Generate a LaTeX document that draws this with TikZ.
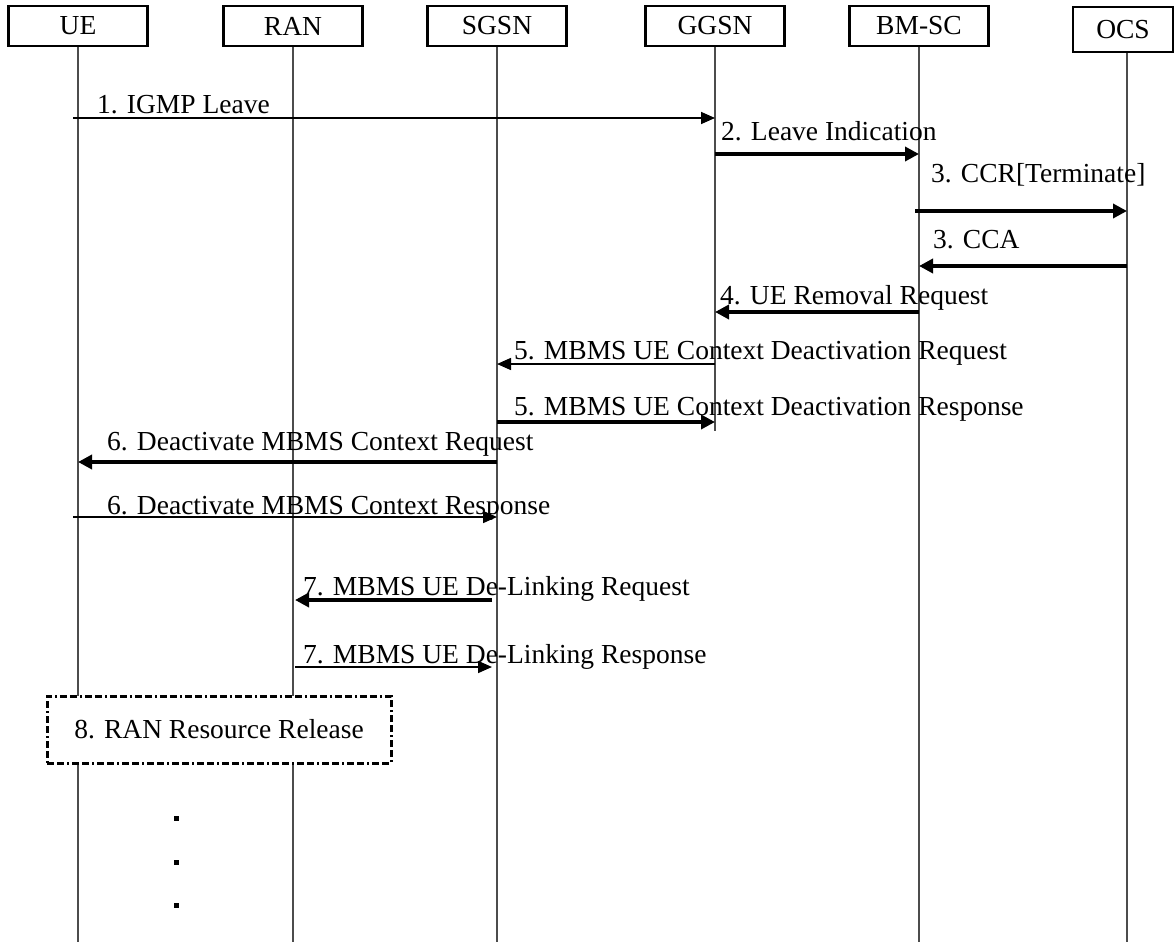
\documentclass[tikz,border=0pt]{standalone}
\usepackage{fontspec}
\setmainfont{Liberation Serif}
\usetikzlibrary{arrows.meta}

\begin{document}
\begin{tikzpicture}[x=1pt, y=-1pt, font=\fontsize{27.5}{30}\selectfont,
    entity/.style={draw, line width=2.4pt, minimum width=139pt, minimum height=40pt, inner sep=0pt},
    life/.style={draw=black!70, line width=1.4pt},
    msg/.style={line width=3.6pt, -{Triangle[length=14pt,width=14pt]}},
    thinmsg/.style={line width=1.6pt, -{Triangle[length=14pt,width=12pt]}},
    lbl/.style={anchor=base west, inner sep=0pt},
    rrbox/.style={draw, fill=white, line width=3pt, dash pattern=on 7pt off 3pt on 7pt off 3pt on 2pt off 3pt, minimum width=344pt, minimum height=67pt}]
    \useasboundingbox (0,0) rectangle (1175,942);
    % entities
    \node[entity] (ue) at (78,26) {UE};
    \node[entity] (ran) at (293,26) {RAN};
    \node[entity] (sgsn) at (497,26) {SGSN};
    \node[entity] (ggsn) at (715,26) {GGSN};
    \node[entity] (bmsc) at (919,26) {BM-SC};
    \node[entity, minimum width=100pt, minimum height=45pt] (ocs) at (1123,29.5) {OCS};
    \coordinate (ocs-l) at ([xshift=4pt]ocs.south);
    % lifelines
    \foreach \n in {ue,ran,sgsn,bmsc}
        \draw[life] (\n.south) -- (\n.south |- 0,942);
    \draw[life] (ggsn.south) -- (ggsn.south |- 0,431);
    \draw[life] (ocs-l) -- (ocs-l |- 0,942);
    % messages
    \draw[thinmsg] ([xshift=-5pt]ue.south |- 0,118) -- (ggsn.south |- 0,118);
    \node[lbl] (l1) at (97,113) {1. IGMP Leave};
    \draw[msg] (ggsn.south |- 0,154) -- (bmsc.south |- 0,154);
    \node[lbl] (l2) at (721,140) {2. Leave Indication};
    \draw[msg] ([xshift=-4pt]bmsc.south |- 0,211) -- (ocs-l |- 0,211);
    \node[lbl] (l3a) at (931,182) {3. CCR[Terminate]};
    \draw[msg] (ocs-l |- 0,266) -- (bmsc.south |- 0,266);
    \node[lbl] (l3b) at (933,248) {3. CCA};
    \draw[msg] (bmsc.south |- 0,312) -- (ggsn.south |- 0,312);
    \node[lbl] (l4) at (720,304) {4. UE Removal Request};
    \draw[thinmsg] (ggsn.south |- 0,364) -- (sgsn.south |- 0,364);
    \node[lbl] (l5a) at (514,359) {5. MBMS UE Context Deactivation Request};
    \draw[msg] (sgsn.south |- 0,422) -- (ggsn.south |- 0,422);
    \node[lbl] (l5b) at (514,415) {5. MBMS UE Context Deactivation Response};
    \draw[msg] (sgsn.south |- 0,462) -- (ue.south |- 0,462);
    \node[lbl] (l6a) at (107,450) {6. Deactivate MBMS Context Request};
    \draw[thinmsg] ([xshift=-5pt]ue.south |- 0,517) -- (sgsn.south |- 0,517);
    \node[lbl] (l6b) at (107,514) {6. Deactivate MBMS Context Response};
    \draw[msg] ([xshift=-5pt]sgsn.south |- 0,600) -- ([xshift=2pt]ran.south |- 0,600);
    \node[lbl] (l7a) at (303,595) {7. MBMS UE De-Linking Request};
    \draw[thinmsg] ([xshift=2pt]ran.south |- 0,667) -- ([xshift=-5pt]sgsn.south |- 0,667);
    \node[lbl] (l7b) at (303,663) {7. MBMS UE De-Linking Response};
    % resource release
    \node[rrbox] (rr) at (219,729.5) {8. RAN Resource Release};
    \foreach \y in {818,862,905}
        \fill (173.5,\y-2.5) rectangle ++(5,5);
\end{tikzpicture}
\end{document}
